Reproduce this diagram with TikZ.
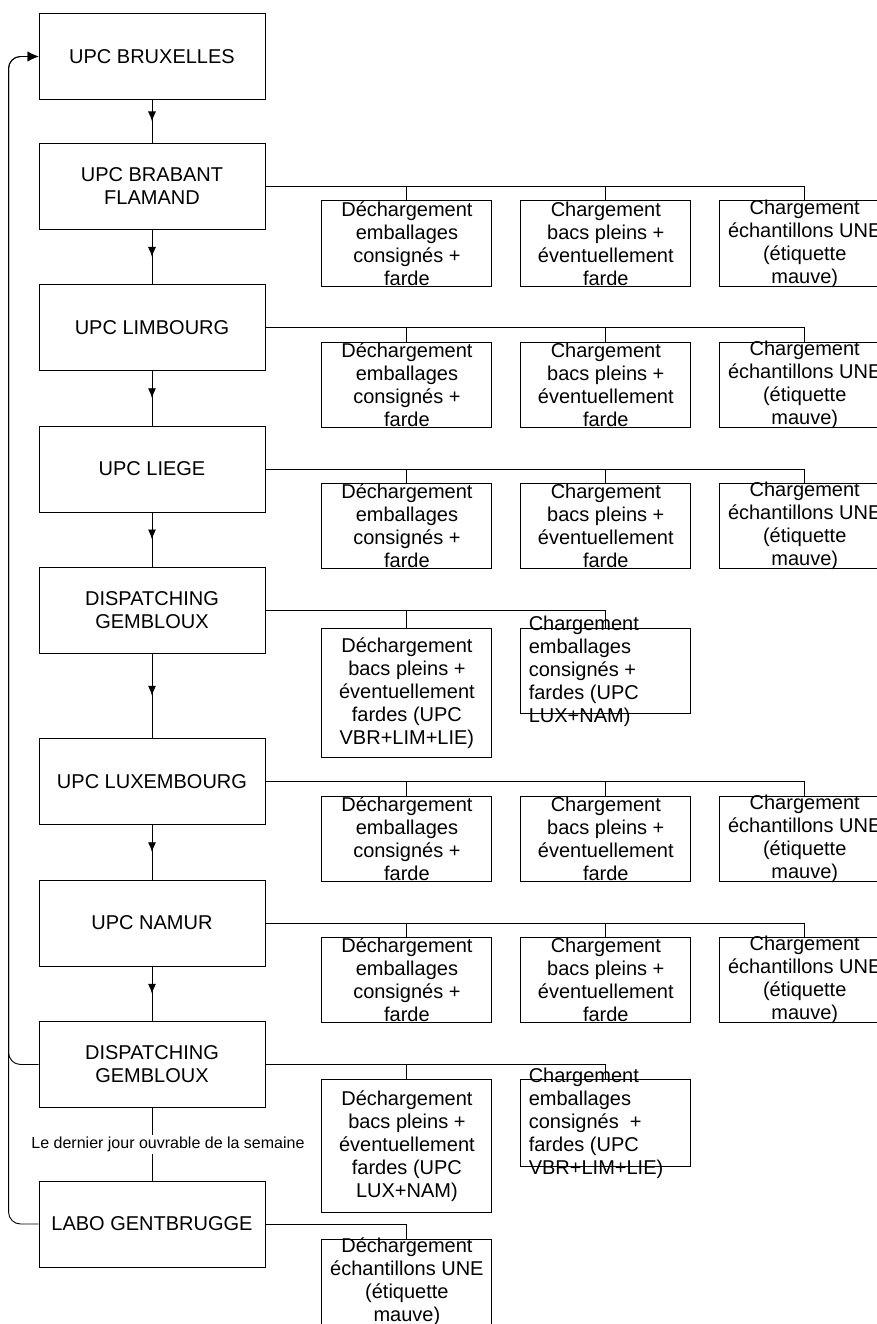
\documentclass[tikz,border=0pt]{standalone}
\usepackage{fontspec}
\setmainfont{Liberation Sans}
\usetikzlibrary{calc}
\usetikzlibrary{positioning}
\usetikzlibrary{arrows.meta}
\tikzset{
  mainNode/.style={%
    rectangle, draw, minimum width=226pt, minimum height=86pt, inner sep=0pt,
    align=center, font=\fontsize{20}{23}\selectfont,
  },
  sideNode/.style={%
    rectangle, draw, minimum width=170pt, minimum height=85pt, inner sep=0pt,
  },
  sideText/.style={%
    inner sep=0pt, align=center, font=\fontsize{20}{23}\selectfont,
  },
  dayLabel/.style={%
    fill=white, inner sep=2pt, font=\fontsize{16}{18}\selectfont,
  },
  flowArrow/.style={-{Latex[length=10pt,width=8pt]}},
  backArrow/.style={-{Latex[length=11pt,width=10pt]}, rounded corners=12pt},
}

\begin{document}
\begin{tikzpicture}[x=1pt,y=1pt,line width=0.9pt]
        \useasboundingbox (0,0) rectangle (877,-1324);
        \foreach \name/\ypos/\txt in {bru/56.5/{UPC BRUXELLES},
          bra/186.5/{UPC BRABANT\\FLAMAND}, lim/327.5/{UPC LIMBOURG},
          lie/469/{UPC LIEGE}, gem/610/{DISPATCHING\\GEMBLOUX},
          lux/781.5/{UPC LUXEMBOURG}, nam/923/{UPC NAMUR},
          gemb/1064.5/{DISPATCHING\\GEMBLOUX}, labo/1224/{LABO GENTBRUGGE}}
        {
          \node[mainNode] (\name) at (152,-\ypos) {\txt};
        }
        \foreach \a/\b in {bru/bra,bra/lim,lim/lie,lie/gem,gem/lux,lux/nam,nam/gemb}
        {
          \draw (\a.south) -- (\b.north);
          \draw[flowArrow] (\a.south) -- ($(\a.south)!0.5!(\b.north)$);
        }
        % rows with three tasks
        \foreach \r in {bra,lim,lie,lux,nam}
        {
          \node[sideNode, below right=14pt and 56pt of \r.east] (\r1) {};
          \node[sideNode, right=28pt of \r1] (\r2) {};
          \node[sideNode, right=28pt of \r2] (\r3) {};
          \node[sideText] (\r1t) at (\r1) {Déchargement\\emballages\\consignés +\\farde};
          \node[sideText] (\r2t) at (\r2) {Chargement\\bacs pleins +\\éventuellement\\farde};
          \node[sideText] (\r3t) at (\r3) {Chargement\\échantillons UNE\\(étiquette\\mauve)};
          \draw (\r.east) -| (\r1.north);
          \draw (\r.east) -| (\r2.north);
          \draw (\r.east) -| (\r3.north);
        }
        % dispatching
        \node[sideNode, minimum height=129pt, below right=18pt and 56pt of gem.east] (gem1) {};
        \node[sideNode, right=28pt of gem1.north east, anchor=north west] (gem2) {};
        \node[sideText] (gem1t) at (gem1) {Déchargement\\bacs pleins +\\éventuellement\\fardes (UPC\\VBR+LIM+LIE)};
        \node[sideText, align=left, anchor=west] (gem2t) at ([xshift=8pt]gem2.west) {Chargement\\emballages\\consignés +\\fardes (UPC\\LUX+NAM)};
        \draw (gem.east) -| (gem1.north);
        \draw (gem.east) -| (gem2.north);
        \node[sideNode, minimum height=133pt, below right=14.5pt and 56pt of gemb.east] (gemb1) {};
        \node[sideNode, minimum height=87pt, right=28pt of gemb1.north east, anchor=north west] (gemb2) {};
        \node[sideText] (gemb1t) at (gemb1) {Déchargement\\bacs pleins +\\éventuellement\\fardes (UPC\\LUX+NAM)};
        \node[sideText, align=left, anchor=west] (gemb2t) at ([xshift=8pt]gemb2.west) {Chargement\\emballages\\consignés\ \ +\\fardes (UPC\\VBR+LIM+LIE)};
        \draw (gemb.east) -| (gemb1.north);
        \draw (gemb.east) -| (gemb2.north);
        % labo
        \node[sideNode, below right=15pt and 56pt of labo.east] (labo1) {};
        \node[sideText] (labo1t) at (labo1) {Déchargement\\échantillons UNE\\(étiquette\\mauve)};
        \draw (labo.east) -| (labo1.north);
        \draw (gemb.south) -- node[dayLabel, xshift=16pt] (dayText) {Le dernier jour ouvrable de la semaine} (labo.north);
        % back to the start
        \draw[backArrow] (gemb.west) -- ++(-30,0) |- (bru.west);
        \draw[backArrow] (labo.west) -- ++(-30,0) |- (bru.west);
      \end{tikzpicture}
\end{document}
